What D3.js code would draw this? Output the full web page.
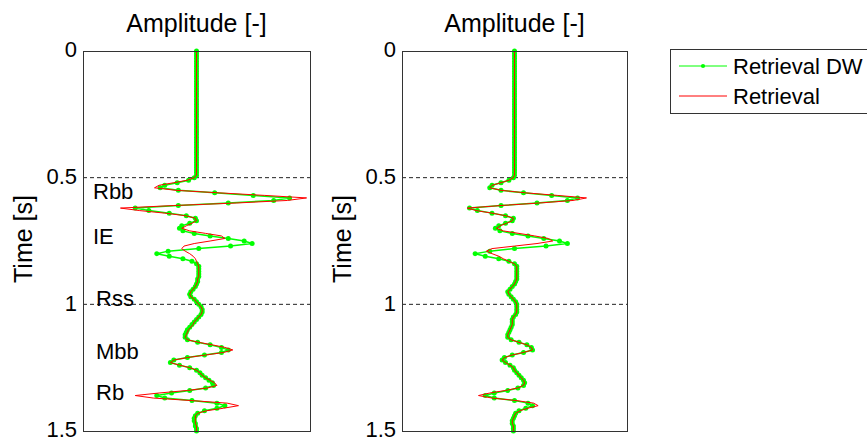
<!DOCTYPE html>
<head>
<meta charset="utf-8">
<script src="https://d3js.org/d3.v7.min.js"></script>
<style>
body { margin: 0; background: #fff; }
svg { display: block; font-family: "Liberation Sans", Arial, sans-serif; }
.frame { fill: none; stroke: #333; stroke-width: 1; }
.marker-line { stroke: #222; stroke-width: 1; stroke-dasharray: 4,3; }
.axis text { font-size: 22px; fill: #000; }
.axis path, .axis line { display: none; }
.lbl { font-size: 25px; fill: #000; }
.note { font-size: 22px; fill: #000; }
.dw { fill: none; stroke: #00ff00; stroke-width: 1.5; }
.dwdot { fill: #00ff00; }
.ret { fill: none; stroke: #ff0000; stroke-width: 1; }
</style>
</head>
<body>
<script>
// sampling: 0 .. 1.5 s every 10 ms
var dt = 0.01;
var nSamples = 151;

// amplitudes, left panel (t = 0 ... 0.47 are quiet)
var leftRetrieval = [
  0,0,0,0,0,0,0,0,0,0, 0,0,0,0,0,0,0,0,0,0, 0,0,0,0,0,0,0,0,0,0, 0,0,0,0,0,0,0,0,0,0, 0,0,0,0,0,0,0,0,
  0,0,-0.02,-0.08,-0.20,-0.33,-0.37,-0.18,0.20,0.60,
  0.97,0.80,0.35,-0.20,-0.67,-0.50,-0.28,-0.10,-0.01,0.00,
  -0.04,-0.09,-0.13,-0.06,0.08,0.22,0.25,0.12,-0.02,-0.11,
  -0.13,-0.10,-0.06,-0.03,-0.01,0.00,0.01,0.02,0.02,0.02,
  0.02,0.02,0.01,0.01,0.00,-0.01,-0.03,-0.05,-0.06,-0.05,
  -0.02,0.00,0.02,0.04,0.05,0.05,0.04,0.02,0.00,-0.02,
  -0.03,-0.05,-0.07,-0.08,-0.09,-0.10,-0.08,0.02,0.14,0.25,
  0.32,0.24,0.08,-0.08,-0.20,-0.23,-0.15,-0.06,0.00,0.03,
  0.05,0.08,0.12,0.16,0.18,0.10,-0.08,-0.33,-0.54,-0.38,
  -0.04,0.27,0.37,0.24,0.09,0.01,-0.01,-0.01,-0.01,-0.01,
  0.00,0.00,0.00
];
var leftRetrievalDW = [
  0,0,0,0,0,0,0,0,0,0, 0,0,0,0,0,0,0,0,0,0, 0,0,0,0,0,0,0,0,0,0, 0,0,0,0,0,0,0,0,0,0, 0,0,0,0,0,0,0,0,
  0,0,-0.02,-0.07,-0.17,-0.28,-0.32,-0.16,0.16,0.50,
  0.82,0.68,0.28,-0.16,-0.54,-0.42,-0.24,-0.09,-0.01,0.00,
  -0.06,-0.13,-0.15,-0.12,-0.02,0.12,0.28,0.42,0.49,0.30,
  0.02,-0.25,-0.35,-0.24,-0.12,-0.04,0.00,0.02,0.02,0.02,
  0.02,0.02,0.01,0.01,0.00,-0.01,-0.03,-0.05,-0.06,-0.05,
  -0.02,0.00,0.02,0.04,0.05,0.05,0.04,0.02,0.00,-0.02,
  -0.04,-0.06,-0.08,-0.09,-0.10,-0.10,-0.08,0.01,0.12,0.22,
  0.28,0.22,0.07,-0.08,-0.20,-0.23,-0.15,-0.06,0.00,0.03,
  0.05,0.08,0.11,0.14,0.15,0.08,-0.06,-0.22,-0.35,-0.28,
  -0.04,0.18,0.25,0.18,0.07,0.01,-0.01,-0.02,-0.02,-0.01,
  -0.01,0.00,0.00
];

// amplitudes, right panel
var rightRetrieval = [
  0,0,0,0,0,0,0,0,0,0, 0,0,0,0,0,0,0,0,0,0, 0,0,0,0,0,0,0,0,0,0, 0,0,0,0,0,0,0,0,0,0, 0,0,0,0,0,0,0,0,
  0,0,-0.01,-0.05,-0.12,-0.20,-0.22,-0.12,0.10,0.38,
  0.64,0.52,0.22,-0.12,-0.42,-0.34,-0.20,-0.08,-0.01,-0.02,
  -0.07,-0.13,-0.16,-0.10,0.04,0.18,0.30,0.34,0.20,0.00,
  -0.20,-0.25,-0.20,-0.14,-0.10,-0.05,0.00,0.02,0.02,0.02,
  0.02,0.02,0.02,0.01,0.00,-0.02,-0.04,-0.06,-0.05,-0.03,
  -0.01,0.01,0.02,0.02,0.02,0.02,0.01,-0.01,-0.02,-0.02,
  -0.02,-0.03,-0.04,-0.05,-0.06,-0.06,-0.03,0.04,0.11,0.15,
  0.16,0.08,-0.02,-0.09,-0.11,-0.08,-0.04,-0.01,0.00,0.02,
  0.04,0.06,0.08,0.09,0.08,0.03,-0.08,-0.22,-0.32,-0.20,
  0.02,0.17,0.21,0.12,0.05,0.01,0.00,-0.01,-0.02,-0.02,
  -0.01,-0.01,-0.01
];
var rightRetrievalDW = [
  0,0,0,0,0,0,0,0,0,0, 0,0,0,0,0,0,0,0,0,0, 0,0,0,0,0,0,0,0,0,0, 0,0,0,0,0,0,0,0,0,0, 0,0,0,0,0,0,0,0,
  0,0,-0.01,-0.05,-0.12,-0.20,-0.22,-0.12,0.08,0.33,
  0.56,0.47,0.20,-0.12,-0.40,-0.33,-0.20,-0.08,-0.01,-0.02,
  -0.08,-0.14,-0.17,-0.13,-0.02,0.12,0.26,0.40,0.47,0.28,
  0.00,-0.22,-0.35,-0.26,-0.14,-0.05,0.00,0.02,0.02,0.02,
  0.02,0.02,0.02,0.01,0.00,-0.02,-0.04,-0.06,-0.05,-0.03,
  -0.01,0.01,0.02,0.02,0.02,0.02,0.01,-0.01,-0.02,-0.02,
  -0.02,-0.03,-0.04,-0.05,-0.06,-0.06,-0.03,0.04,0.11,0.15,
  0.16,0.08,-0.02,-0.09,-0.11,-0.08,-0.04,-0.01,0.00,0.02,
  0.04,0.06,0.08,0.09,0.08,0.03,-0.06,-0.18,-0.26,-0.18,
  0.00,0.12,0.16,0.10,0.04,0.01,0.00,-0.01,-0.02,-0.02,
  -0.01,-0.01,-0.01
];

var timeTicks = [0, 0.5, 1, 1.5];
var guideTimes = [0.5, 1];
var noteNames = ["Rbb", "IE", "Rss", "Mbb", "Rb"];
var noteTimes = [0.584, 0.762, 1.007, 1.216, 1.378];
var seriesNames = ["Retrieval DW", "Retrieval"];

var times = d3.range(nSamples).map(function(i) { return +(i * dt).toFixed(2); });

var svg = d3.select("body").append("svg")
    .attr("width", 867)
    .attr("height", 441);

var panelTop = 51, panelBottom = 431;

function drawPanel(left, right, dwVals, retVals, withNotes) {
    var x = d3.scaleLinear().domain([-1, 1]).range([left, right]);
    var y = d3.scaleLinear().domain([0, 1.5]).range([panelTop, panelBottom]);

    var g = svg.append("g");

    // dashed guides
    g.selectAll(".marker-line")
        .data(guideTimes)
        .enter().append("line")
        .attr("class", "marker-line")
        .attr("x1", left).attr("x2", right)
        .attr("y1", function(d) { return y(d); })
        .attr("y2", function(d) { return y(d); });

    var dwData = times.map(function(t, i) { return [t, dwVals[i]]; });
    var retData = times.map(function(t, i) { return [t, retVals[i]]; });

    var line = d3.line()
        .x(function(d) { return x(d[1]); })
        .y(function(d) { return y(d[0]); });

    g.append("path").datum(dwData).attr("class", "dw").attr("d", line);
    g.selectAll(".dwdot")
        .data(dwData)
        .enter().append("circle")
        .attr("class", "dwdot")
        .attr("cx", function(d) { return x(d[1]); })
        .attr("cy", function(d) { return y(d[0]); })
        .attr("r", 2.5);
    g.append("path").datum(retData).attr("class", "ret").attr("d", line);

    g.append("rect")
        .attr("class", "frame")
        .attr("x", left + 0.5).attr("y", panelTop + 0.5)
        .attr("width", right - left).attr("height", panelBottom - panelTop);

    var axis = g.append("g")
        .attr("class", "axis")
        .attr("transform", "translate(" + left + ",0)")
        .call(d3.axisLeft(y).tickValues(timeTicks).tickSize(0).tickPadding(6)
            .tickFormat(function(d) { return String(d); }));
    axis.selectAll("text").attr("dy", "0.26em");

    // title and y label
    g.append("text")
        .attr("class", "lbl")
        .attr("x", (left + right) / 2)
        .attr("y", 32)
        .attr("text-anchor", "middle")
        .text("Amplitude [-]");
    g.append("text")
        .attr("class", "lbl")
        .attr("transform", "translate(" + (left - 51) + "," + ((panelTop + panelBottom) / 2 - 2) + ") rotate(-90)")
        .attr("text-anchor", "middle")
        .text("Time [s]");

    if (withNotes) {
        g.selectAll(".note")
            .data(noteNames)
            .enter().append("text")
            .attr("class", "note")
            .attr("x", function(d, i) { return i < 2 ? left + 10 : left + 13; })
            .attr("y", function(d, i) { return y(noteTimes[i]); })
            .text(function(d) { return d; });
    }
}

drawPanel(83, 310, leftRetrievalDW, leftRetrieval, true);
drawPanel(402, 627, rightRetrievalDW, rightRetrieval, false);

// legend
var legend = svg.append("g");
legend.append("rect")
    .attr("class", "frame")
    .attr("x", 670.5).attr("y", 49.5)
    .attr("width", 240).attr("height", 64);
var rows = legend.selectAll(".row")
    .data(seriesNames)
    .enter().append("g")
    .attr("transform", function(d, i) { return "translate(0," + (66 + i * 30) + ")"; });
rows.append("line")
    .attr("x1", 679).attr("x2", 727)
    .attr("y1", 0).attr("y2", 0)
    .attr("class", function(d, i) { return i === 0 ? "dw" : "ret"; })
    .style("stroke-width", 1);
rows.filter(function(d, i) { return i === 0; })
    .append("circle")
    .attr("class", "dwdot")
    .attr("cx", 703).attr("cy", 0).attr("r", 2.1);
rows.append("text")
    .attr("class", "note")
    .attr("x", 733)
    .attr("y", 8)
    .text(function(d) { return d; });
</script>
</body>
